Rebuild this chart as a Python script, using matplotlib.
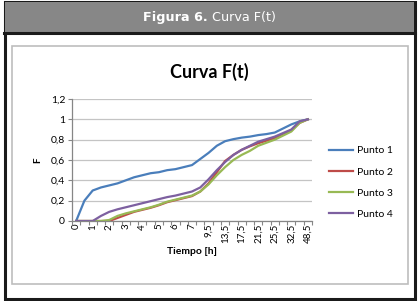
import matplotlib
matplotlib.use("Agg")
import matplotlib.pyplot as plt
from matplotlib.patches import Rectangle
from matplotlib.lines import Line2D

W, H = 419, 301

# ---- data ----
categories = ["0", "0,5", "1", "1,5", "2", "2,5", "3", "3,5", "4", "4,5",
              "5", "5,5", "6", "6,5", "7", "7,5", "9,5", "11,5", "13,5", "15,5",
              "17,5", "19,5", "21,5", "23,5", "25,5", "28,5", "32,5", "40,5", "48,5"]
punto1 = [0, 0.20, 0.30, 0.33, 0.35, 0.37, 0.40, 0.43, 0.45, 0.47,
          0.48, 0.50, 0.51, 0.53, 0.55, 0.61, 0.67, 0.74, 0.785, 0.805,
          0.82, 0.83, 0.845, 0.855, 0.87, 0.91, 0.95, 0.98, 1.0]
punto2 = [0, 0, 0, 0, 0, 0.03, 0.06, 0.09, 0.11, 0.13,
          0.155, 0.185, 0.205, 0.225, 0.245, 0.29, 0.37, 0.48, 0.59, 0.65,
          0.70, 0.735, 0.765, 0.79, 0.815, 0.855, 0.89, 0.965, 1.0]
punto3 = [0, 0, 0, 0, 0.01, 0.05, 0.075, 0.095, 0.115, 0.135,
          0.16, 0.19, 0.21, 0.23, 0.25, 0.29, 0.36, 0.45, 0.53, 0.60,
          0.65, 0.69, 0.74, 0.77, 0.80, 0.84, 0.88, 0.965, 1.0]
punto4 = [0, 0, 0, 0.05, 0.09, 0.115, 0.135, 0.155, 0.175, 0.195,
          0.215, 0.235, 0.25, 0.27, 0.29, 0.33, 0.41, 0.50, 0.58, 0.65,
          0.70, 0.74, 0.78, 0.805, 0.83, 0.865, 0.90, 0.98, 1.0]
series_names = ["Punto 1", "Punto 2", "Punto 3", "Punto 4"]
series_colors = ["#4A7EBB", "#BE4B48", "#98B954", "#7D60A0"]
y_ticks = [0, 0.2, 0.4, 0.6, 0.8, 1.0, 1.2]
y_tick_labels = ["0", "0,2", "0,4", "0,6", "0,8", "1", "1,2"]

FONT = ["Lato", "DejaVu Sans"]
plt.rcParams["font.family"] = FONT

def fx(px):
    return px / W

def fy(py):
    return 1 - py / H

fig = plt.figure(figsize=(W / 100, H / 100), dpi=100)
fig.patch.set_facecolor("white")

# outer frame
fig.patches.append(Rectangle((fx(4.5), fy(298.5)), fx(414.5) - fx(4.5), fy(1.5) - fy(298.5),
                             transform=fig.transFigure, fill=False, edgecolor="#1a1a1a", lw=2.2))
# header banner
fig.patches.append(Rectangle((fx(5), fy(33)), fx(414) - fx(5), fy(2) - fy(33),
                             transform=fig.transFigure, facecolor="#878787", edgecolor="none"))
fig.add_artist(Line2D([fx(4), fx(415)], [fy(33), fy(33)], transform=fig.transFigure,
                      color="#1a1a1a", lw=2.2))
fig.text(fx(208), fy(18), "Figura 6.", ha="right", va="center", color="white",
         fontsize=9.2, fontweight="bold", family=["DejaVu Sans"])
fig.text(fx(212), fy(18), "Curva F(t)", ha="left", va="center", color="white",
         fontsize=9.2, family=["DejaVu Sans"])
# inner chart box
fig.patches.append(Rectangle((fx(12), fy(284)), fx(408) - fx(12), fy(46) - fy(284),
                             transform=fig.transFigure, fill=False, edgecolor="#BDBDBD", lw=1.2))

ax = fig.add_axes([fx(72), fy(221), fx(312) - fx(72), fy(99) - fy(221)])
x = list(range(len(categories)))
for vals, name, col in zip([punto1, punto2, punto3, punto4], series_names, series_colors):
    ax.plot(x, vals, color=col, lw=1.6, label=name, solid_joinstyle="round")

ax.set_xlim(-0.5, len(categories) - 0.5)
ax.set_ylim(0, 1.2)
ax.set_yticks(y_ticks)
ax.set_yticklabels(y_tick_labels, fontsize=7.5)
ax.set_xticks(x)
ax.set_xticklabels([c if i % 2 == 0 else "" for i, c in enumerate(categories)],
                   rotation=90, fontsize=7)
ax.set_xticks([i - 0.5 for i in range(len(categories) + 1)], minor=True)
ax.tick_params(axis="x", which="major", length=0, pad=2)
ax.tick_params(axis="x", which="minor", length=3, color="#868686", width=0.8)
ax.tick_params(axis="y", length=3, color="#868686", width=0.8, pad=2)
ax.grid(axis="y", color="#C4C4C4", lw=0.9)
ax.set_axisbelow(True)
for s in ["top", "right"]:
    ax.spines[s].set_visible(False)
for s in ["left", "bottom"]:
    ax.spines[s].set_color("#868686")
    ax.spines[s].set_linewidth(0.9)

ax.set_xlabel("Tiempo [h]", fontsize=7.5, fontweight="bold", labelpad=3)
ax.set_ylabel("F", fontsize=7, fontweight="bold", labelpad=6)

fig.text(fx(209), fy(72), "Curva F(t)", ha="center", va="center", fontsize=13,
         fontweight="bold")

ax.legend(loc="upper left", bbox_to_anchor=(fx(329), fy(146)), bbox_transform=fig.transFigure,
          frameon=False, fontsize=7.5, handlelength=2.3, handletextpad=0.35,
          labelspacing=1.15, borderpad=0, borderaxespad=0)

fig.savefig("out.png", dpi=100)
